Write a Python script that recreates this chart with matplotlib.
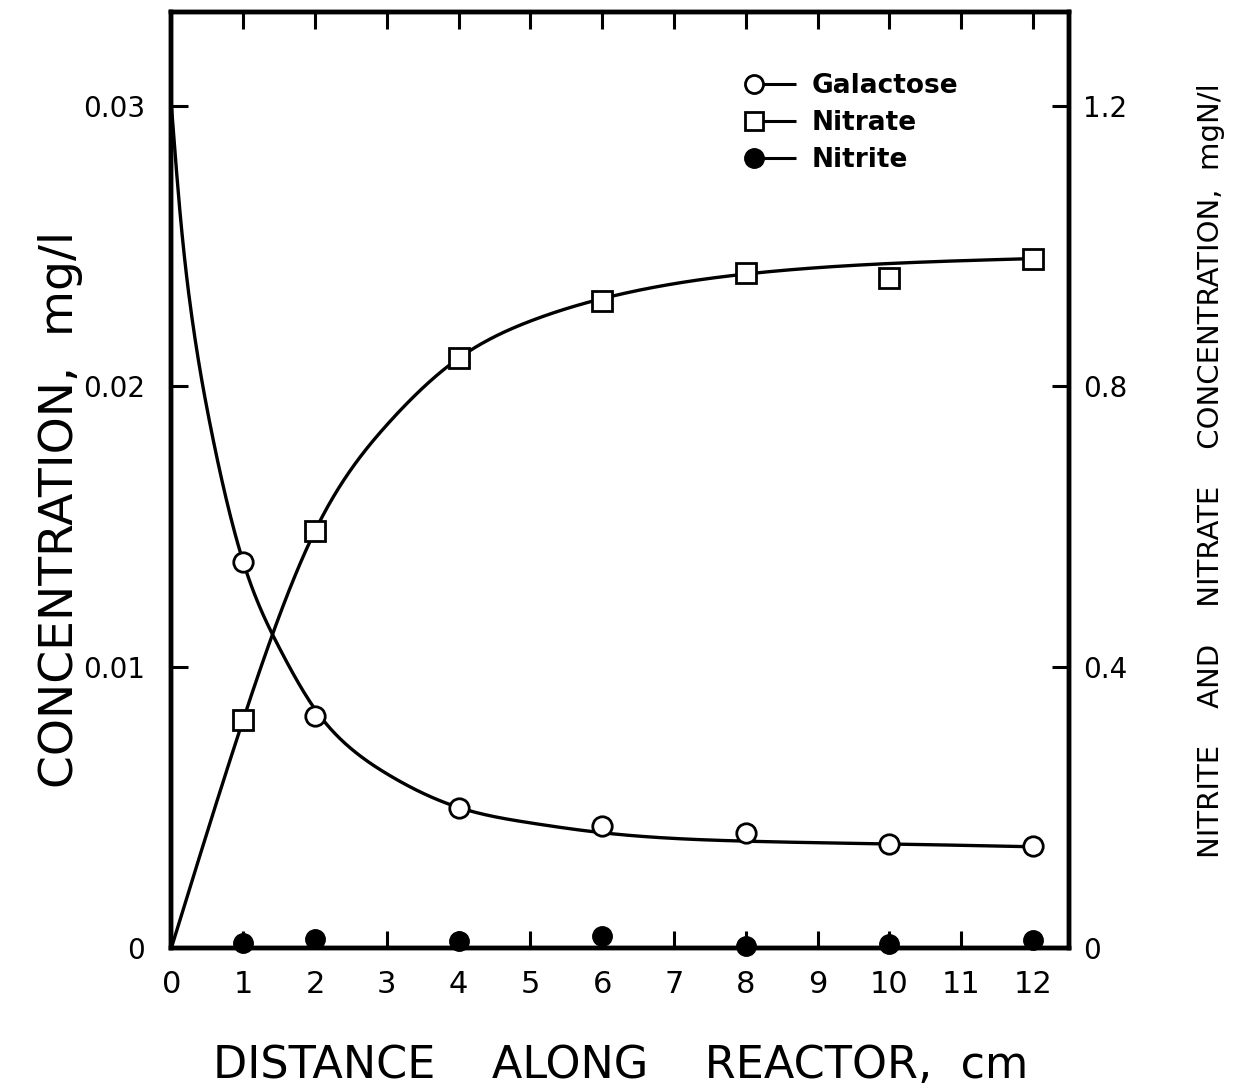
import numpy as np
import matplotlib
matplotlib.use("Agg")
import matplotlib.pyplot as plt
from matplotlib.lines import Line2D
from matplotlib.legend_handler import HandlerBase

# ---- data ----
distance = [1, 2, 4, 6, 8, 10, 12]
galactose = [0.01375, 0.00826, 0.00499, 0.00435, 0.00410, 0.00370, 0.00363]   # mg/l (left)
nitrate = [0.325, 0.594, 0.841, 0.922, 0.962, 0.955, 0.982]                   # mgN/l (right)
nitrite = [0.007, 0.012, 0.010, 0.017, 0.003, 0.005, 0.011]                   # mgN/l (right)

# smooth fitted curves as drawn in the figure
gal_curve_x = [0, 0.12, 0.3, 0.55, 1.0, 1.5, 2, 2.5, 3, 4, 5, 6, 8, 10, 12]
gal_curve_y = [0.0300, 0.0262, 0.0222, 0.0185, 0.01375, 0.0107, 0.0085, 0.0071,
               0.0062, 0.0050, 0.00445, 0.0041, 0.0038, 0.0037, 0.0036]
nit_curve_x = [0, 1, 2, 3, 4, 5, 6, 8, 10, 12]
nit_curve_y = [0, 0.325, 0.594, 0.745, 0.840, 0.893, 0.925, 0.960, 0.975, 0.982]

x_ticks = list(range(0, 13))
left_ticks = [0, 0.01, 0.02, 0.03]
left_ticklabels = ["0", "0.01", "0.02", "0.03"]
right_ticks = [0, 0.4, 0.8, 1.2]
right_ticklabels = ["0", "0.4", "0.8", "1.2"]


def natural_spline(x, y, xs):
    x = np.asarray(x, float); y = np.asarray(y, float)
    n = len(x)
    h = np.diff(x)
    A = np.zeros((n, n)); b = np.zeros(n)
    A[0, 0] = 1; A[-1, -1] = 1
    for i in range(1, n - 1):
        A[i, i - 1] = h[i - 1]
        A[i, i] = 2 * (h[i - 1] + h[i])
        A[i, i + 1] = h[i]
        b[i] = 3 * ((y[i + 1] - y[i]) / h[i] - (y[i] - y[i - 1]) / h[i - 1])
    c = np.linalg.solve(A, b)
    bb = (y[1:] - y[:-1]) / h - h * (2 * c[:-1] + c[1:]) / 3
    d = (c[1:] - c[:-1]) / (3 * h)
    idx = np.clip(np.searchsorted(x, xs) - 1, 0, n - 2)
    t = xs - x[idx]
    return y[idx] + bb[idx] * t + c[idx] * t**2 + d[idx] * t**3


class MarkerThenLine(HandlerBase):
    def create_artists(self, legend, orig_handle, xdescent, ydescent,
                       width, height, fontsize, trans):
        y = height / 2.0 - ydescent
        x0 = -xdescent
        line = Line2D([x0 + width * 0.3, x0 + width], [y, y], color="black", lw=2.2,
                      solid_capstyle="butt")
        mk = Line2D([x0 + width * 0.2], [y], marker=orig_handle.get_marker(),
                    markersize=orig_handle.get_markersize(),
                    markerfacecolor=orig_handle.get_markerfacecolor(),
                    markeredgecolor="black",
                    markeredgewidth=orig_handle.get_markeredgewidth(), linestyle="none")
        line.set_transform(trans)
        mk.set_transform(trans)
        return [line, mk]


plt.rcParams["font.family"] = ["DejaVu Sans"]
fig = plt.figure(figsize=(12.33, 10.92), dpi=100)
ax = fig.add_axes([0.139, 0.132, 0.728, 0.857])
ax2 = ax.twinx()

xs = np.linspace(0, 12, 800)
ax.plot(xs, natural_spline(gal_curve_x, gal_curve_y, xs), color="black", lw=2.4, zorder=2)
ax2.plot(xs, natural_spline(nit_curve_x, nit_curve_y, xs), color="black", lw=2.4, zorder=2)

ax.plot(distance, galactose, linestyle="none", marker="o", ms=14, mfc="white",
        mec="black", mew=2.0, zorder=3)
ax2.plot(distance, nitrate, linestyle="none", marker="s", ms=14, mfc="white",
         mec="black", mew=2.0, zorder=3)
ax2.plot(distance, nitrite, linestyle="none", marker="o", ms=14, mfc="black",
         mec="black", mew=1.0, zorder=4, clip_on=False)

ax.set_xlim(0, 12.5)
ax.set_ylim(0, 0.03333)
ax2.set_ylim(0, 1.3333)

ax.set_xticks(x_ticks)
ax.set_xticklabels([str(v) for v in x_ticks], fontsize=22)
ax.set_yticks(left_ticks)
ax.set_yticklabels(left_ticklabels, fontsize=20)
ax2.set_yticks(right_ticks)
ax2.set_yticklabels(right_ticklabels, fontsize=20)

ax.tick_params(axis="x", direction="in", length=12, width=2.2, pad=16, top=True)
ax.tick_params(axis="y", direction="in", length=12, width=2.2, pad=19)
ax2.tick_params(axis="y", direction="in", length=12, width=2.2, pad=10)

for a in (ax, ax2):
    for s in a.spines.values():
        s.set_linewidth(3.2)

ax.set_xlabel("DISTANCE    ALONG    REACTOR,  cm", fontsize=32, labelpad=32)
ax.set_ylabel("CONCENTRATION,  mg/l", fontsize=34)
ax.yaxis.set_label_coords(-0.099, 0.468)
ax2.set_ylabel("NITRITE    AND    NITRATE    CONCENTRATION,  mgN/l", fontsize=21)
ax2.yaxis.set_label_coords(1.1425, 0.51)

handles = [
    Line2D([], [], marker="o", ms=13, mfc="white", mec="black", mew=2.0),
    Line2D([], [], marker="s", ms=13, mfc="white", mec="black", mew=2.0),
    Line2D([], [], marker="o", ms=14, mfc="black", mec="black", mew=1.0),
]
leg = ax.legend(handles, ["Galactose", "Nitrate", "Nitrite"],
                handler_map={Line2D: MarkerThenLine()},
                loc="upper left", bbox_to_anchor=(0.603, 0.933),
                bbox_transform=fig.transFigure, frameon=False,
                prop={"size": 19, "weight": "bold"}, handlelength=2.0,
                handletextpad=0.6, labelspacing=0.42, borderpad=0, borderaxespad=0)

fig.savefig("out.png", dpi=100)
